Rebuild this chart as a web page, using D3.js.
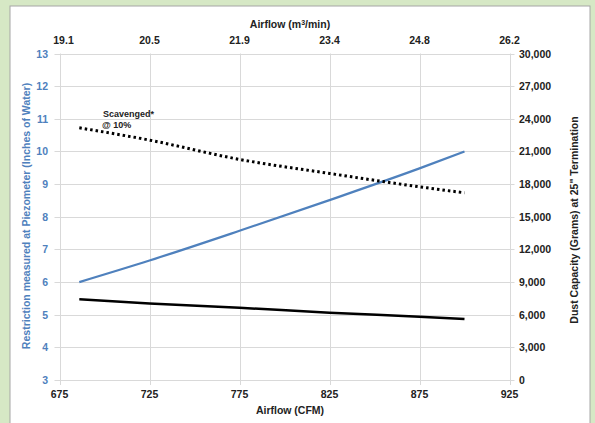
<!DOCTYPE html>
<html><head><meta charset="utf-8">
<script src="https://cdn.jsdelivr.net/npm/d3@7"></script>
<style>body{margin:0;background:#d6e8c5;}svg{display:block;font-family:"Liberation Sans",Arial,sans-serif;}</style>
</head><body>
<script>
const cfmTicks = [675, 725, 775, 825, 875, 925];
const m3Labels = ["19.1", "20.5", "21.9", "23.4", "24.8", "26.2"];
const leftTicks = [3,4,5,6,7,8,9,10,11,12,13];
const rightTicks = [0,3000,6000,9000,12000,15000,18000,21000,24000,27000,30000];
const flow = [686, 725, 775, 825, 875, 900];
const restriction = [6.0, 6.66, 7.57, 8.51, 9.48, 10.0];
const dustCapacity = [7410, 7040, 6640, 6180, 5810, 5600];
const scavenged = [23170, 22040, 20270, 18980, 17750, 17200];

const W = 595, H = 423;
const svg = d3.select("body").append("svg").attr("width", W).attr("height", H);
svg.append("rect").attr("x",0).attr("y",0).attr("width",W).attr("height",H).attr("fill","#d6e8c5");
svg.append("rect").attr("x",10).attr("y",6).attr("width",580).attr("height",430).attr("fill","#fff").attr("stroke","#a6a6a6").attr("stroke-width",1);

const x = d3.scaleLinear().domain([675, 925]).range([59.5, 509.5]);
const yL = d3.scaleLinear().domain([3, 13]).range([380, 53.5]);
const yR = d3.scaleLinear().domain([0, 30000]).range([380, 53.5]);

const grid = svg.append("g").attr("stroke","#d9d9d9").attr("stroke-width",1);
leftTicks.forEach(t => grid.append("line").attr("x1",x(675)-5).attr("x2",x(925)+5).attr("y1",Math.round(yL(t))+0.5).attr("y2",Math.round(yL(t))+0.5));
cfmTicks.forEach(t => grid.append("line").attr("x1",Math.round(x(t))+0.5).attr("x2",Math.round(x(t))+0.5).attr("y1",yL(13)).attr("y2",yL(3)+5));

const fs = 10.5;
const gl = svg.append("g").attr("font-size",fs).attr("font-weight","bold").attr("fill","#4f81bd").attr("text-anchor","end");
leftTicks.forEach(t => gl.append("text").attr("x",48).attr("y",yL(t)+4).text(t));
const gr = svg.append("g").attr("font-size",fs).attr("font-weight","bold").attr("fill","#222").attr("text-anchor","start");
rightTicks.forEach(t => gr.append("text").attr("x",519).attr("y",yR(t)+4).text(d3.format(",")(t)));
const gb = svg.append("g").attr("font-size",fs).attr("font-weight","bold").attr("fill","#222").attr("text-anchor","middle");
cfmTicks.forEach(t => gb.append("text").attr("x",x(t)).attr("y",398).text(t));
const gt = svg.append("g").attr("font-size",fs).attr("font-weight","bold").attr("fill","#222").attr("text-anchor","middle");
cfmTicks.forEach((t,i) => gt.append("text").attr("x",x(t)+(i===0?4:0)).attr("y",44).text(m3Labels[i]));

svg.append("text").attr("x",290).attr("y",414).attr("text-anchor","middle").attr("font-size",fs).attr("font-weight","bold").attr("fill","#222").text("Airflow (CFM)");
const tt = svg.append("text").attr("x",290).attr("y",28).attr("text-anchor","middle").attr("font-size",fs).attr("font-weight","bold").attr("fill","#222");
tt.append("tspan").text("Airflow (m");
tt.append("tspan").attr("font-size",7).attr("dy",-3).text("3");
tt.append("tspan").attr("dy",3).text("/min)");
svg.append("text").attr("transform","translate(30,216) rotate(-90)").attr("text-anchor","middle").attr("font-size",fs).attr("font-weight","bold").attr("fill","#4f81bd").text("Restriction measured at Piezometer (Inches of Water)");
svg.append("text").attr("transform","translate(578,220) rotate(-90)").attr("text-anchor","middle").attr("font-size",fs).attr("font-weight","bold").attr("fill","#222").text("Dust Capacity (Grams) at 25\" Termination");

const idx = d3.range(flow.length);
svg.append("path").attr("d", d3.line().curve(d3.curveMonotoneX).x(i=>x(flow[i])).y(i=>yL(restriction[i]))(idx))
  .attr("fill","none").attr("stroke","#4f81bd").attr("stroke-width",2.25);
svg.append("path").attr("d", d3.line().curve(d3.curveMonotoneX).x(i=>x(flow[i])).y(i=>yR(dustCapacity[i]))(idx))
  .attr("fill","none").attr("stroke","#000").attr("stroke-width",2.5);
svg.append("path").attr("d", d3.line().curve(d3.curveMonotoneX).x(i=>x(flow[i])).y(i=>yR(scavenged[i]))(idx))
  .attr("fill","none").attr("stroke","#000").attr("stroke-width",3).attr("stroke-dasharray","2.5,3");

const an = svg.append("g").attr("font-size",9).attr("font-weight","bold").attr("fill","#222");
an.append("text").attr("x",103).attr("y",117).text("Scavenged*");
an.append("text").attr("x",102).attr("y",128).text("@ 10%");
</script>
</body></html>
